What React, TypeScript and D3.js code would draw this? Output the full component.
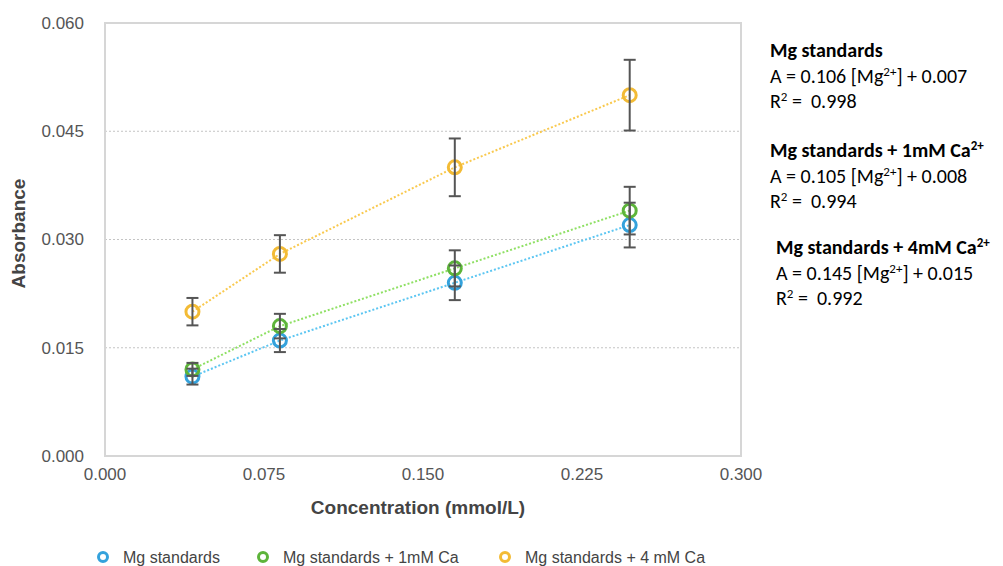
import { useEffect, useRef } from "react"
import * as d3 from "d3"

// concentrations (mmol/L)
const concentrations = [0.04125, 0.0825, 0.165, 0.2475]

const seriesNames = ["Mg standards", "Mg standards + 1mM Ca", "Mg standards + 4 mM Ca"]
const mgValues = [0.011, 0.016, 0.024, 0.032]
const mgErrors = [0.0011, 0.0016, 0.0024, 0.0031]
const ca1Values = [0.012, 0.018, 0.026, 0.034]
const ca1Errors = [0.0009, 0.0017, 0.0025, 0.0033]
const ca4Values = [0.02, 0.028, 0.04, 0.05]
const ca4Errors = [0.0019, 0.0026, 0.004, 0.0049]

const xTicks = [0, 0.075, 0.15, 0.225, 0.3]
const yTicks = [0, 0.015, 0.03, 0.045, 0.06]

const equations = [
  { title: "Mg standards", titleSup: "", slope: "0.106", intercept: "0.007", r2: "0.998" },
  { title: "Mg standards + 1mM Ca", titleSup: "2+", slope: "0.105", intercept: "0.008", r2: "0.994" },
  { title: "Mg standards + 4mM Ca", titleSup: "2+", slope: "0.145", intercept: "0.015", r2: "0.992" },
]

export default function App() {
  const svgRef = useRef(null)

  useEffect(() => {
    if (!svgRef.current) return
    const svg = d3.select(svgRef.current)
    svg.selectAll("*").remove()

    const width = 1003
    const height = 566
    const margin = { top: 23, left: 105 }
    const innerWidth = 636
    const innerHeight = 433
    const axisFont = "'Liberation Sans', Arial, sans-serif"

    const x = d3.scaleLinear().domain([0, 0.3]).range([0, innerWidth])
    const y = d3.scaleLinear().domain([0, 0.06]).range([innerHeight, 0])

    const g = svg.append("g").attr("transform", `translate(${margin.left},${margin.top})`)

    // 网格线
    g.selectAll(".grid")
      .data(yTicks.filter((t) => t > 0 && t < 0.06))
      .enter()
      .append("line")
      .attr("x1", 0)
      .attr("x2", innerWidth)
      .attr("y1", (d) => y(d))
      .attr("y2", (d) => y(d))
      .attr("stroke", "#c4c4c4")
      .attr("stroke-width", 1)
      .attr("stroke-dasharray", "2,2")

    // 边框
    g.append("rect")
      .attr("x", 0)
      .attr("y", 0)
      .attr("width", innerWidth)
      .attr("height", innerHeight)
      .attr("fill", "none")
      .attr("stroke", "#d6d6d6")
      .attr("stroke-width", 2)

    // 刻度标签
    g.selectAll(".xtick")
      .data(xTicks)
      .enter()
      .append("text")
      .attr("x", (d) => x(d))
      .attr("y", innerHeight + 24)
      .attr("text-anchor", "middle")
      .attr("font-family", axisFont)
      .attr("font-size", "17px")
      .attr("fill", "#555")
      .text((d) => d3.format(".3f")(d))

    g.selectAll(".ytick")
      .data(yTicks)
      .enter()
      .append("text")
      .attr("x", -21)
      .attr("y", (d) => y(d))
      .attr("dy", "0.35em")
      .attr("text-anchor", "end")
      .attr("font-family", axisFont)
      .attr("font-size", "17px")
      .attr("fill", "#555")
      .text((d) => d3.format(".3f")(d))

    // 轴标题
    g.append("text")
      .attr("x", innerWidth / 2 - 5)
      .attr("y", innerHeight + 58)
      .attr("text-anchor", "middle")
      .attr("font-family", axisFont)
      .attr("font-size", "19px")
      .attr("font-weight", "bold")
      .attr("fill", "#444")
      .text("Concentration (mmol/L)")

    g.append("text")
      .attr("transform", `translate(${-80},${innerHeight / 2 - 6}) rotate(-90)`)
      .attr("text-anchor", "middle")
      .attr("font-family", axisFont)
      .attr("font-size", "19px")
      .attr("font-weight", "bold")
      .attr("fill", "#444")
      .text("Absorbance")

    const series = [
      { name: seriesNames[0], values: mgValues, errors: mgErrors, color: "#34a2dc", line: "#5cc6f2" },
      { name: seriesNames[1], values: ca1Values, errors: ca1Errors, color: "#5db43a", line: "#8fe064" },
      { name: seriesNames[2], values: ca4Values, errors: ca4Errors, color: "#f3bb35", line: "#f9c94e" },
    ]

    const line = d3
      .line<number>()
      .x((d, i) => x(concentrations[i]))
      .y((d) => y(d))

    // 趋势线
    series.forEach((s) => {
      g.append("path")
        .datum(s.values)
        .attr("fill", "none")
        .attr("stroke", s.line)
        .attr("stroke-width", 2)
        .attr("stroke-dasharray", "2,2")
        .attr("d", line)
    })

    // 数据点
    series.forEach((s) => {
      g.selectAll(null)
        .data(s.values)
        .enter()
        .append("circle")
        .attr("cx", (d, i) => x(concentrations[i]))
        .attr("cy", (d) => y(d))
        .attr("r", 6.5)
        .attr("fill", "none")
        .attr("stroke", s.color)
        .attr("stroke-width", 3)
    })

    // 误差线
    series.forEach((s) => {
      s.values.forEach((v, i) => {
        const cx = x(concentrations[i])
        const y1 = y(v - s.errors[i])
        const y2 = y(v + s.errors[i])
        const eb = g.append("g").attr("stroke", "#555").attr("stroke-width", 2)
        eb.append("line").attr("x1", cx).attr("x2", cx).attr("y1", y1).attr("y2", y2)
        eb.append("line").attr("x1", cx - 6).attr("x2", cx + 6).attr("y1", y1).attr("y2", y1)
        eb.append("line").attr("x1", cx - 6).attr("x2", cx + 6).attr("y1", y2).attr("y2", y2)
      })
    })

    // 图例
    const legendX = [103, 263, 505]
    series.forEach((s, i) => {
      const lg = svg.append("g").attr("transform", `translate(${legendX[i]},557)`)
      lg.append("circle").attr("r", 4.5).attr("fill", "none").attr("stroke", s.color).attr("stroke-width", 3)
      lg.append("text")
        .attr("x", 20)
        .attr("dy", "0.35em")
        .attr("font-family", axisFont)
        .attr("font-size", "16px")
        .attr("fill", "#444")
        .text(s.name)
    })

    // 回归方程
    const annFont = "Carlito, Lato, 'Liberation Sans', sans-serif"
    const blockTop = [57, 157, 254]
    const blockX = [770, 770, 776]
    equations.forEach((e, i) => {
      const b = svg.append("g").attr("transform", `translate(${blockX[i]},${blockTop[i]})`)
      const t = b
        .append("text")
        .attr("font-family", annFont)
        .attr("font-size", "20px")
        .attr("font-weight", "bold")
        .attr("fill", "#000")
      t.append("tspan").text(e.title)
      if (e.titleSup) t.append("tspan").attr("dy", -7).attr("font-size", "13px").text(e.titleSup)

      const eq = b.append("text").attr("y", 26).attr("font-family", annFont).attr("font-size", "20px").attr("fill", "#000")
      eq.append("tspan").text(`A = ${e.slope} [Mg`)
      eq.append("tspan").attr("dy", -7).attr("font-size", "13px").text("2+")
      eq.append("tspan").attr("dy", 7).text(`] + ${e.intercept}`)

      const r = b
        .append("text")
        .attr("y", 51)
        .attr("font-family", annFont)
        .attr("font-size", "20px")
        .attr("fill", "#000")
        .style("white-space", "pre")
      r.append("tspan").text("R")
      r.append("tspan").attr("dy", -7).attr("font-size", "13px").text("2")
      r.append("tspan").attr("dy", 7).text(` =  ${e.r2}`)
    })

    svg.attr("width", width).attr("height", height).attr("viewBox", [0, 0, width, height])
  }, [])

  return (
    <svg ref={svgRef} style={{ position: "absolute", left: 0, top: 0, display: "block" }}></svg>
  )
}
